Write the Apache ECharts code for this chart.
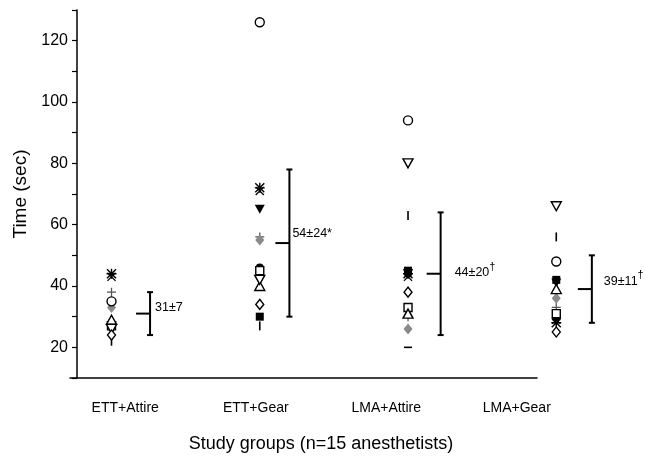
<!DOCTYPE html>
<html>
<head>
<meta charset="utf-8">
<script src="https://cdn.jsdelivr.net/npm/echarts@6/dist/echarts.min.js"></script>
<style>html,body{margin:0;padding:0;background:#fff}#c{width:645px;height:463px}</style>
</head>
<body>
<div id="c"></div>
<script>
// ---- data ----
const groups = ['ETT+Attire', 'ETT+Gear', 'LMA+Attire', 'LMA+Gear'];
const yTicks = [20, 40, 60, 80, 100, 120];
// individual anesthetist times (sec) per group, one array per marker
const openCircle    = [35, 126, 94, 48];
const openDownTri   = [26, 42, 80, 66];
const vBar          = [22, 27, 63, 56];
const filledSquare  = [27, 30, 45, 42];
const filledDownTri = [27, 65, 44, 41];
const asterisk      = [44, 72, 44, 28];
const xCross        = [43, 71, 43, 29];
const openDiamond   = [24, 34, 38, 25];
const openSquare    = [27, 45, 33, 31];
const openUpTri     = [29, 40, 31, 39];
const grayDiamond   = [33, 55, 26, 36];
const plusSign      = [38, 56, 30, 33];
const hDash         = [26, 46, 20, 29];
const filledCircle  = [28, 46, 44, 30];
// mean and SD per group
const means = [31, 54, 44, 39];
const sds   = [7, 24, 20, 11];
const annot = ['31±7', '54±24*', '44±20', '39±11'];
const annotSup = ['', '', '†', '†'];

// ---- layout / style ----
const barOffset = [0.26, 0.20, 0.22, 0.24];
const labelDx = [5, 3, 14, 12];
const labelDy = [-6, -10, -1, -8];

const PLUS = 'path://M4.3,0h1.4v10h-1.4z M0,4.3h10v1.4h-10z';
const XC = 'path://M0,1L1,0L10,9L9,10Z M9,0L10,1L1,10L0,9Z';
const AST = 'path://M4.3,0h1.4v10h-1.4z M0,4.3h10v1.4h-10z M0,1L1,0L10,9L9,10Z M9,0L10,1L1,10L0,9Z';
const open = {color: '#fff', borderColor: '#000', borderWidth: 1.4};
const fill = {color: '#000'};

const markerDefs = [
  {d: filledSquare,  symbol: 'rect', size: 8, style: fill},
  {d: filledCircle,  symbol: 'circle', size: 8, style: fill},
  {d: filledDownTri, symbol: 'triangle', rotate: 180, size: [10, 9], style: fill},
  {d: hDash,         symbol: 'rect', size: [8, 1.6], style: fill},
  {d: vBar,          symbol: 'rect', size: [1.6, 9], style: fill},
  {d: plusSign,      symbol: PLUS, size: 9, style: {color: '#555'}},
  {d: xCross,        symbol: XC, size: 9, style: fill},
  {d: asterisk,      symbol: AST, size: 10, style: fill},
  {d: grayDiamond,   symbol: 'diamond', size: [9, 11], style: {color: '#8a8a8a'}},
  {d: openSquare,    symbol: 'rect', size: 8, style: open},
  {d: openUpTri,     symbol: 'triangle', size: [10, 9], style: open},
  {d: openDownTri,   symbol: 'triangle', rotate: 180, size: [10, 9], style: open},
  {d: openDiamond,   symbol: 'diamond', size: [8, 10], style: open},
  {d: openCircle,    symbol: 'circle', size: 9, style: open}
];

const scatterSeries = markerDefs.map(m => ({
  type: 'scatter',
  xAxisIndex: 0, yAxisIndex: 0,
  clip: false,
  symbol: m.symbol,
  symbolRotate: m.rotate || 0,
  symbolSize: m.size,
  itemStyle: Object.assign({opacity: 1}, m.style),
  emphasis: {disabled: true},
  data: m.d.map((v, i) => [i + 1, v])
}));

const errSeries = {
  type: 'custom',
  xAxisIndex: 0, yAxisIndex: 0,
  clip: false,
  data: means.map((m, i) => [i + 1 + barOffset[i], m, sds[i], i]),
  renderItem: function (params, api) {
    const x = api.value(0), m = api.value(1), s = api.value(2), i = api.value(3);
    const top = api.coord([x, m + s]);
    const bot = api.coord([x, m - s]);
    const mid = api.coord([x, m]);
    const ls = {stroke: '#000', lineWidth: 2};
    const txt = annotSup[i] ? '{m|' + annot[i] + '}{s|' + annotSup[i] + '}' : '{m|' + annot[i] + '}';
    return {
      type: 'group',
      children: [
        {type: 'line', shape: {x1: top[0], y1: top[1], x2: bot[0], y2: bot[1]}, style: ls},
        {type: 'line', shape: {x1: top[0] - 3, y1: top[1], x2: top[0] + 3, y2: top[1]}, style: ls},
        {type: 'line', shape: {x1: bot[0] - 3, y1: bot[1], x2: bot[0] + 3, y2: bot[1]}, style: ls},
        {type: 'line', shape: {x1: mid[0] - 14, y1: mid[1], x2: mid[0], y2: mid[1]}, style: ls},
        {type: 'text', style: {
          x: mid[0] + labelDx[i], y: mid[1] + labelDy[i],
          text: txt, verticalAlign: 'middle', align: 'left',
          rich: {
            m: {fontSize: 12.5, fontFamily: 'Liberation Sans', fill: '#000'},
            s: {fontSize: 11, fontFamily: 'Liberation Sans', fill: '#000', padding: [0, 0, 12, 0]}
          }
        }}
      ]
    };
  }
};

const chart = echarts.init(document.getElementById('c'), null, {renderer: 'canvas'});
chart.setOption({
  animation: false,
  backgroundColor: '#fff',
  textStyle: {fontFamily: 'Liberation Sans', color: '#000'},
  grid: [
    {left: 70, right: 108, top: 10, bottom: 85},
    {left: 60, width: 522, top: 10, bottom: 85}
  ],
  xAxis: [
    {type: 'value', gridIndex: 0, min: 0.72, max: 3.87,
     axisLine: {show: true, onZero: false, lineStyle: {color: '#000', width: 1.5}},
     axisTick: {show: false}, axisLabel: {show: false}, splitLine: {show: false}},
    {type: 'category', gridIndex: 1, data: groups,
     axisLine: {show: false}, axisTick: {show: false},
     axisLabel: {fontSize: 14, color: '#000', margin: 23, fontFamily: 'Liberation Sans'},
     name: 'Study groups (n=15 anesthetists)', nameLocation: 'middle', nameGap: 57,
     nameTextStyle: {fontSize: 18, color: '#000', fontFamily: 'Liberation Sans'}}
  ],
  yAxis: [
    {type: 'value', gridIndex: 0, min: 10, max: 130, interval: 10, offset: -7,
     axisLine: {show: true, lineStyle: {color: '#000', width: 1.5}},
     axisTick: {show: true, inside: false, length: 5, lineStyle: {color: '#000', width: 1.2}},
     axisLabel: {fontSize: 16, color: '#000', margin: 9,
       formatter: v => (yTicks.indexOf(v) >= 0 ? String(v) : '')},
     splitLine: {show: false},
     name: 'Time (sec)', nameLocation: 'middle', nameRotate: 90, nameGap: 46,
     nameTextStyle: {fontSize: 19, color: '#000', fontFamily: 'Liberation Sans'}},
    {type: 'value', gridIndex: 1, show: false}
  ],
  series: scatterSeries.concat([errSeries])
});
</script>
</body>
</html>
